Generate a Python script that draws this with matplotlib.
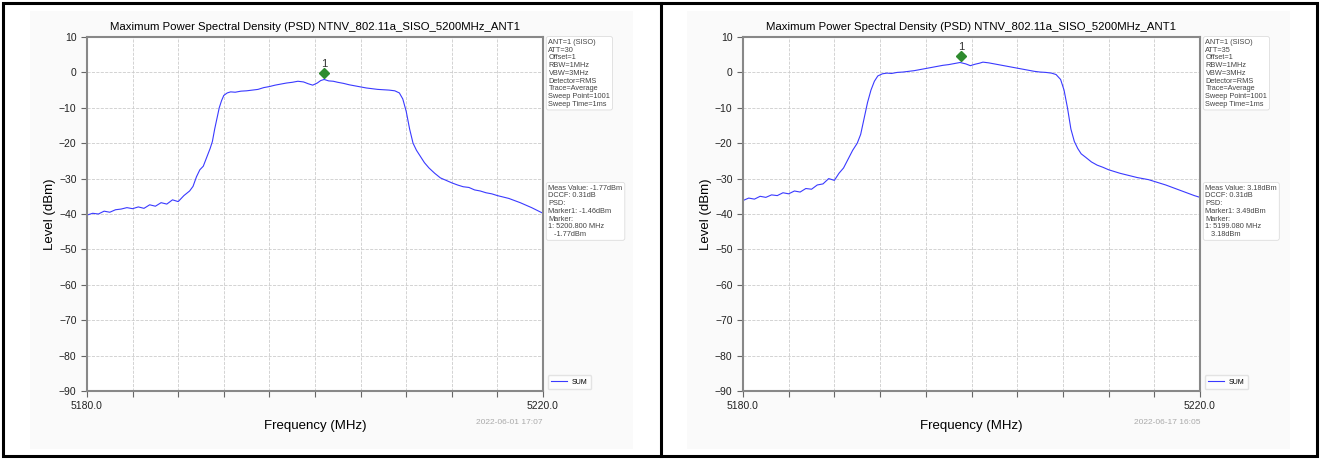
import numpy as np
import matplotlib.pyplot as plt
from matplotlib.patches import Rectangle
from matplotlib.lines import Line2D

plt.rcParams['font.family'] = ['Liberation Sans', 'DejaVu Sans']

title = "Maximum Power Spectral Density (PSD) NTNV_802.11a_SISO_5200MHz_ANT1"

# left panel trace (ATT=30)
freq_a = [5180.0, 5180.5, 5181.0, 5181.5, 5182.0, 5182.5, 5183.0, 5183.5, 5184.0, 5184.5,
          5185.0, 5185.5, 5186.0, 5186.5, 5187.0, 5187.5, 5188.0, 5188.5, 5189.0, 5189.3,
          5189.6, 5189.9, 5190.2, 5190.5, 5190.8, 5191.0, 5191.2, 5191.4, 5191.6, 5191.8,
          5192.0, 5192.3, 5192.6, 5193.0, 5193.5, 5194.0, 5194.5, 5195.0, 5195.5, 5196.0,
          5196.5, 5197.0, 5197.5, 5198.0, 5198.5, 5199.0, 5199.4, 5199.8, 5200.2, 5200.5,
          5200.8, 5201.2, 5201.6, 5202.0, 5202.5, 5203.0, 5203.5, 5204.0, 5204.5, 5205.0,
          5205.5, 5206.0, 5206.5, 5207.0, 5207.4, 5207.7, 5208.0, 5208.3, 5208.6, 5208.9,
          5209.2, 5209.6, 5210.0, 5210.5, 5211.0, 5211.5, 5212.0, 5212.5, 5213.0, 5213.5,
          5214.0, 5214.5, 5215.0, 5215.5, 5216.0, 5216.5, 5217.0, 5217.5, 5218.0, 5218.5,
          5219.0, 5219.5, 5220.0]
level_a = [-40.3, -39.8, -40.0, -39.2, -39.5, -38.8, -38.6, -38.2, -38.5, -38.0,
           -38.4, -37.4, -37.8, -36.8, -37.2, -36.0, -36.5, -34.8, -33.5, -32.2,
           -29.5, -27.5, -26.5, -24.0, -21.5, -19.5, -16.0, -13.0, -10.0, -8.0,
           -6.5, -5.8, -5.5, -5.6, -5.3, -5.2, -5.0, -4.8, -4.3, -4.0,
           -3.6, -3.3, -3.0, -2.8, -2.5, -2.7, -3.2, -3.6, -3.0, -2.3,
           -2.0, -2.4, -2.5, -2.8, -3.1, -3.5, -3.8, -4.1, -4.4, -4.6,
           -4.8, -4.9, -5.0, -5.2, -5.8, -7.5, -11.0, -16.0, -20.0, -22.0,
           -23.5, -25.5, -27.0, -28.5, -29.8, -30.5, -31.2, -31.8, -32.3, -32.5,
           -33.2, -33.5, -34.0, -34.3, -34.8, -35.2, -35.6, -36.2, -36.8, -37.5,
           -38.2, -39.0, -39.8]

# right panel trace (ATT=35)
freq_b = [5180.0, 5180.5, 5181.0, 5181.5, 5182.0, 5182.5, 5183.0, 5183.5, 5184.0, 5184.5,
          5185.0, 5185.5, 5186.0, 5186.5, 5187.0, 5187.5, 5188.0, 5188.4, 5188.8, 5189.2,
          5189.6, 5190.0, 5190.3, 5190.6, 5190.9, 5191.2, 5191.5, 5191.8, 5192.2, 5192.6,
          5193.0, 5193.5, 5194.0, 5194.5, 5195.0, 5195.5, 5196.0, 5196.5, 5197.0, 5197.5,
          5198.0, 5198.5, 5199.0, 5199.5, 5199.9, 5200.3, 5200.7, 5201.0, 5201.5, 5202.0,
          5202.5, 5203.0, 5203.5, 5204.0, 5204.5, 5205.0, 5205.5, 5206.0, 5206.5, 5207.0,
          5207.4, 5207.8, 5208.1, 5208.4, 5208.7, 5209.0, 5209.3, 5209.6, 5210.0, 5210.5,
          5211.0, 5211.5, 5212.0, 5212.5, 5213.0, 5213.5, 5214.0, 5214.5, 5215.0, 5215.5,
          5216.0, 5216.5, 5217.0, 5217.5, 5218.0, 5218.5, 5219.0, 5219.5, 5220.0]
level_b = [-36.2, -35.5, -35.8, -35.0, -35.3, -34.6, -34.8, -34.0, -34.3, -33.5,
           -33.8, -32.8, -33.0, -31.8, -31.5, -30.0, -30.5, -28.5, -27.0, -24.5,
           -22.0, -20.0, -17.5, -13.0, -8.5, -5.0, -2.5, -1.0, -0.4, -0.2,
           -0.3, 0.0, 0.1, 0.3, 0.5, 0.8, 1.1, 1.4, 1.7, 2.0,
           2.2, 2.5, 2.8, 2.4, 1.9, 2.3, 2.6, 2.9, 2.7, 2.4,
           2.1, 1.8, 1.5, 1.2, 0.9, 0.6, 0.3, 0.1, 0.0, -0.2,
           -0.6, -2.0, -5.0, -10.0, -16.0, -19.5, -21.5, -23.0, -24.0, -25.3,
           -26.2, -26.8, -27.5, -28.0, -28.5, -28.9, -29.3, -29.7, -30.0, -30.3,
           -30.8, -31.3, -31.8, -32.4, -33.0, -33.6, -34.2, -34.8, -35.3]

# marker 1 positions as drawn
marker_a = (5200.8, -0.3)
marker_b = (5199.08, 4.6)

info_a = "ANT=1 (SISO)\nATT=30\nOffset=1\nRBW=1MHz\nVBW=3MHz\nDetector=RMS\nTrace=Average\nSweep Point=1001\nSweep Time=1ms"
info_b = "ANT=1 (SISO)\nATT=35\nOffset=1\nRBW=1MHz\nVBW=3MHz\nDetector=RMS\nTrace=Average\nSweep Point=1001\nSweep Time=1ms"
meas_a = "Meas Value: -1.77dBm\nDCCF: 0.31dB\nPSD:\nMarker1: -1.46dBm\nMarker:\n1: 5200.800 MHz\n   -1.77dBm"
meas_b = "Meas Value: 3.18dBm\nDCCF: 0.31dB\nPSD:\nMarker1: 3.49dBm\nMarker:\n1: 5199.080 MHz\n   3.18dBm"
date_a = "2022-06-01 17:07"
date_b = "2022-06-17 16:05"

xticks = np.arange(5180, 5221, 4)
xlabels = ['5180.0'] + [''] * 9 + ['5220.0']
yticks = np.arange(-90, 11, 10)


def panel(ax, f, lv, mk, info, meas, date):
    ax.plot(f, lv, color='#3a3aff', lw=0.8, label='SUM')
    ax.plot(mk[0], mk[1], marker='D', color='#2e8b2e', ms=5, ls='none')
    ax.text(mk[0], mk[1] + 1.3, '1', ha='center', va='bottom', fontsize=8, color='#333333')
    ax.set_xlim(5180, 5220)
    ax.set_ylim(-90, 10)
    ax.set_xticks(xticks)
    ax.set_xticklabels(xlabels)
    ax.set_yticks(yticks)
    ax.grid(True, ls='--', color='#cccccc', lw=0.6)
    for s in ax.spines.values():
        s.set_color('#888888')
        s.set_linewidth(1.5)
    ax.tick_params(length=4, color='#666666', labelsize=7.5, labelcolor='#222222')
    ax.set_title(title, fontsize=8.2, pad=5)
    ax.set_xlabel('Frequency (MHz)', fontsize=9.5, labelpad=6)
    ax.set_ylabel('Level (dBm)', fontsize=9.5, labelpad=2)
    box = dict(boxstyle='round,pad=0.3', facecolor='white', edgecolor='#dddddd', lw=0.6)
    ax.text(1.012, 0.995, info, transform=ax.transAxes, ha='left', va='top',
            fontsize=5.3, color='#444444', linespacing=1.15, bbox=box)
    ax.text(1.012, 0.583, meas, transform=ax.transAxes, ha='left', va='top',
            fontsize=5.3, color='#444444', linespacing=1.15, bbox=box)
    leg = ax.legend(loc='lower left', bbox_to_anchor=(1.003, -0.005), fontsize=5,
                    handlelength=2.2, frameon=True, borderpad=0.5)
    leg.get_frame().set_edgecolor('#dddddd')
    ax.text(1.0, -0.09, date, transform=ax.transAxes, ha='right', va='center',
            fontsize=6, color='#aaaaaa')


fig = plt.figure(figsize=(13.2, 4.59), dpi=100)
fig.patch.set_facecolor('white')
# light panel backgrounds
fig.add_artist(Rectangle((30 / 1320, 10 / 459), 603 / 1320, 438 / 459,
                         transform=fig.transFigure, facecolor='#fafafa', edgecolor='none', zorder=-5))
fig.add_artist(Rectangle((687 / 1320, 10 / 459), 603 / 1320, 438 / 459,
                         transform=fig.transFigure, facecolor='#fafafa', edgecolor='none', zorder=-5))

ax1 = fig.add_axes([87 / 1320, 68 / 459, 456 / 1320, 354 / 459])
ax2 = fig.add_axes([743 / 1320, 68 / 459, 457 / 1320, 354 / 459])
panel(ax1, freq_a, level_a, marker_a, info_a, meas_a, date_a)
panel(ax2, freq_b, level_b, marker_b, info_b, meas_b, date_b)

# black frame around both panels
fig.add_artist(Rectangle((3 / 1320, 3 / 459), 1314 / 1320, 453 / 459, transform=fig.transFigure,
                         facecolor='none', edgecolor='black', lw=2.2))
fig.add_artist(Line2D([661 / 1320, 661 / 1320], [3 / 459, 456 / 459], transform=fig.transFigure,
                      color='black', lw=2.2))

fig.savefig('out.png', dpi=100)
